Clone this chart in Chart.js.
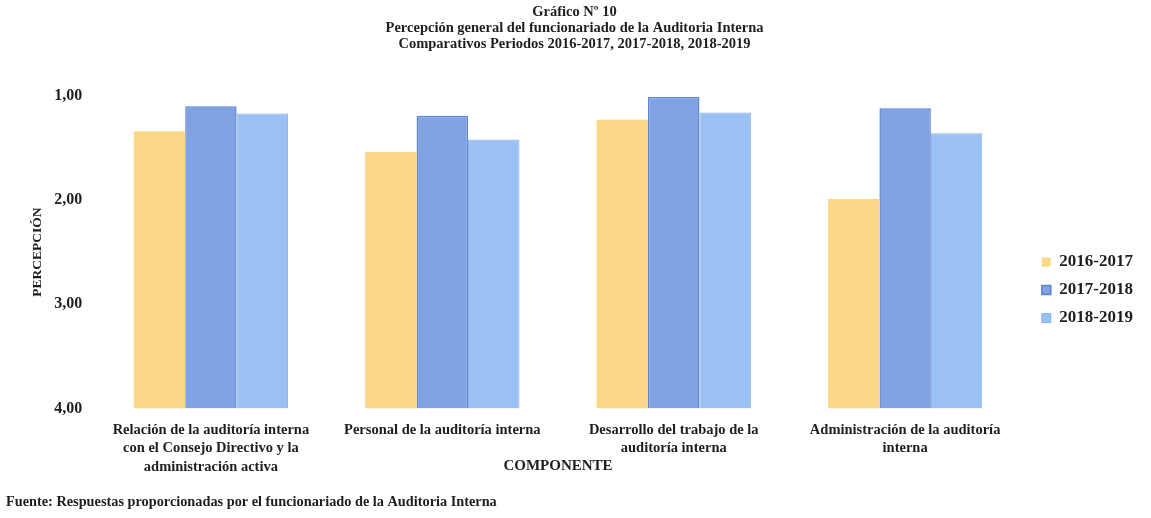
<!DOCTYPE html>
<html>
<head>
<meta charset="utf-8">
<script src="https://cdn.jsdelivr.net/npm/chart.js@4/dist/chart.umd.min.js"></script>
<style>
  html, body { margin: 0; padding: 0; background: #fff; }
  #wrap { width: 1151px; height: 518px; }
</style>
</head>
<body>
<div id="wrap"><canvas id="bar-chart"></canvas></div>
<script>
// Categories (componentes)
const categories = [
    ["Relación de la auditoría interna", "con el Consejo Directivo y la", "administración activa"],
    ["Personal de la auditoría interna"],
    ["Desarrollo del trabajo de la", "auditoría interna"],
    ["Administración de la auditoría", "interna"]
];
const seriesNames = ["2016-2017", "2017-2018", "2018-2019"];
const p2016 = [1.34, 1.54, 1.23, 1.99];
const p2017 = [1.10, 1.19, 1.01, 1.12];
const p2018 = [1.17, 1.42, 1.16, 1.36];
const yTicks = [1, 2, 3, 4];

Chart.defaults.color = "#1e1e1e";
Chart.defaults.font.family = "'Liberation Serif', serif";
Chart.defaults.font.weight = "bold";
Chart.defaults.font.size = 14;

const ctx = document.getElementById("bar-chart").getContext("2d");
const chart = new Chart(ctx, {
    type: "bar",
    data: {
        labels: categories,
        datasets: [{
            label: seriesNames[0],
            data: p2016,
            base: 4,
            backgroundColor: "#fbd888",
            borderWidth: 0
        }, {
            label: seriesNames[1],
            data: p2017,
            base: 4,
            backgroundColor: "#7ea2e2",
            borderColor: "#5f85cf",
            borderWidth: 1.5
        }, {
            label: seriesNames[2],
            data: p2018,
            base: 4,
            backgroundColor: "#9bc0f3",
            borderColor: "#89afea",
            borderWidth: 1
        }]
    },
    options: {
        responsive: true,
        maintainAspectRatio: false,
        animation: false,
        layout: { padding: { left: 6, right: 8, top: 0, bottom: 3 } },
        datasets: {
            bar: { categoryPercentage: 0.667, barPercentage: 1.0 }
        },
        plugins: {
            title: {
                display: true,
                text: ["Gráfico Nº 10",
                       "Percepción general del funcionariado de la Auditoria Interna",
                       "Comparativos Periodos 2016-2017, 2017-2018, 2018-2019"],
                font: { size: 14.5, weight: "bold", lineHeight: 1.1 },
                padding: { top: 4, bottom: 44 }
            },
            subtitle: {
                display: true,
                position: "bottom",
                align: "start",
                text: "Fuente: Respuestas proporcionadas por el funcionariado de la Auditoria Interna",
                font: { size: 14.3, weight: "bold" },
                padding: { top: 19, bottom: 4 }
            },
            legend: {
                position: "right",
                title: {
                    display: true,
                    text: " ",
                    font: { size: 1 },
                    padding: { top: 0, bottom: 64 }
                },
                labels: {
                    boxWidth: 9,
                    boxHeight: 9,
                    padding: 11,
                    font: { size: 17, weight: "bold" }
                }
            },
            tooltip: { enabled: false }
        },
        scales: {
            x: {
                grid: { display: false },
                border: { display: false },
                ticks: { maxRotation: 0, autoSkip: false, padding: 5, font: { size: 14.5, lineHeight: 1.25 } },
                title: {
                    display: true,
                    text: "COMPONENTE",
                    font: { size: 15, weight: "bold" },
                    padding: { top: -24, bottom: 0 }
                }
            },
            y: {
                reverse: true,
                min: 1,
                max: 4,
                grid: { display: false },
                border: { display: false },
                afterBuildTicks: function (scale) {
                    scale.ticks = yTicks.map(v => ({ value: v }));
                },
                ticks: {
                    padding: 5,
                    font: { size: 16 },
                    callback: function (v) { return v.toFixed(2).replace(".", ","); }
                },
                title: {
                    display: true,
                    text: "PERCEPCIÓN",
                    font: { size: 13.5, weight: "bold", lineHeight: 1.2 },
                    padding: { top: 23, bottom: 4 }
                }
            },
            // empty spacer between plot and legend
            gap: {
                type: "linear",
                position: "right",
                grid: { display: false },
                border: { display: false },
                ticks: { display: false },
                afterFit: function (scale) { scale.width = 10; }
            }
        }
    }
});
</script>
</body>
</html>
